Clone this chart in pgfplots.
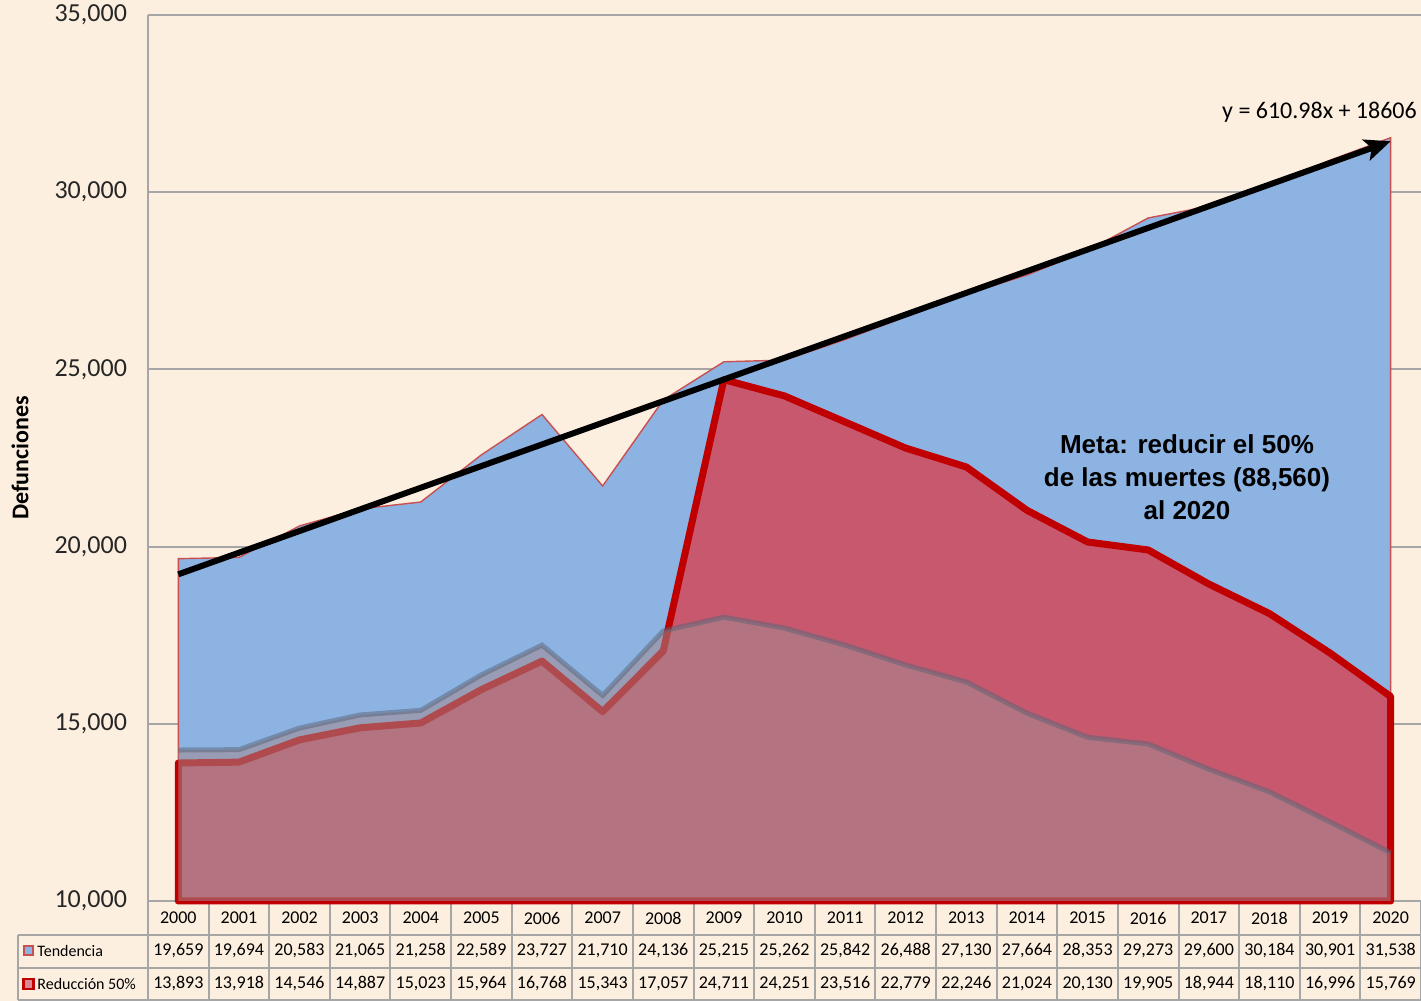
\documentclass[border=0pt]{standalone}
\usepackage{pgfplots}
\pgfplotsset{compat=1.18}
\usepackage{pgfplotstable}
\usepackage{fontspec}
\setmainfont{Carlito}
\newfontfamily\arialfont{Liberation Sans}
\usetikzlibrary{arrows.meta}
\definecolor{bg}{RGB}{253,239,223}
\definecolor{bluefill}{RGB}{141,179,226}
\definecolor{redfill}{RGB}{200,88,110}
\definecolor{redline}{RGB}{192,0,0}
\definecolor{mauve}{RGB}{162,138,143}
\definecolor{gridgray}{RGB}{166,166,166}
\definecolor{bordergray}{RGB}{90,100,120}
\definecolor{thinred}{RGB}{200,80,80}

\pgfplotstableread{
x tend red
0 19659 13893
1 19694 13918
2 20583 14546
3 21065 14887
4 21258 15023
5 22589 15964
6 23727 16768
7 21710 15343
8 24136 17057
9 25215 24711
10 25262 24251
11 25842 23516
12 26488 22779
13 27130 22246
14 27664 21024
15 28353 20130
16 29273 19905
17 29600 18944
18 30184 18110
19 30901 16996
20 31538 15769
}\datatab

\begin{document}
\begin{tikzpicture}
\fill[bg, use as bounding box] (-74pt,-50pt) rectangle (636.5pt,450.5pt);
% table grid
\begin{scope}[gridgray, line width=1pt]
\draw (-65pt,-17pt) -- (636.5pt,-17pt);
\draw (-65pt,-33.5pt) -- (636.5pt,-33.5pt);
\draw (-65pt,-49.5pt) -- (636.5pt,-49.5pt);
\draw (-65pt,-17pt) -- (-65pt,-49.5pt);
\draw (0,0) -- (636.5pt,0);
\foreach \k in {0,...,21} \draw (\k*30.3095pt,0) -- (\k*30.3095pt,-49.5pt);
\draw (0,0) -- (0,443pt);
\end{scope}
\node[draw=thinred, fill=bluefill, line width=1pt, minimum size=4.5pt, inner sep=0pt] at (-59.75pt,-25pt) {};
\node[anchor=west, font=\fontsize{8}{8}\selectfont, inner sep=0pt] at (-55.5pt,-25pt) {Tendencia};
\node[draw=redline, fill=redfill!70!white, line width=1.4pt, minimum size=5pt, inner sep=0pt] at (-59.75pt,-41.5pt) {};
\node[anchor=west, font=\fontsize{8}{8}\selectfont, inner sep=0pt] at (-55.5pt,-41.5pt) {Reducción 50\%};

\begin{axis}[at={(0,0)}, anchor=south west, scale only axis,
  width=636.5pt, height=443pt,
  xmin=-0.5, xmax=20.5, ymin=10000, ymax=35000, clip=false,
  axis line style={draw=none}, major tick length=0pt,
  ytick={10000,15000,20000,25000,30000,35000},
  ymajorgrids, grid style={gridgray, line width=1pt},
  scaled y ticks=false,
  yticklabel style={font=\fontsize{13}{13}\selectfont, text=black!85, xshift=-7pt},
  /pgf/number format/.cd, fixed, 1000 sep={,}, assume math mode=true, /pgfplots/.cd,
  xtick={0,...,20},
  xticklabels={2000,2001,2002,2003,2004,2005,2006,2007,2008,2009,2010,2011,2012,2013,2014,2015,2016,2017,2018,2019,2020},
  xticklabel style={anchor=center, yshift=-8.5pt, font=\fontsize{9}{9}\selectfont, text=black},
  ylabel=Defunciones,
  ylabel style={at={(axis description cs:-0.1005,0.5)}, anchor=center, font=\bfseries\fontsize{12}{12}\selectfont},
]
% Tendencia
\addplot[fill=bluefill, draw=thinred, line width=0.7pt] coordinates {
(0,10000) (0,19659) (1,19694) (2,20583) (3,21065) (4,21258) (5,22589) (6,23727) (7,21710) (8,24136) (9,25215) (10,25262) (11,25842) (12,26488) (13,27130) (14,27664) (15,28353) (16,29273) (17,29600) (18,30184) (19,30901) (20,31538) (20,10000)} -- cycle;
% Reduccion 50%
\addplot[fill=redfill, draw=redline, line width=3.5pt, line join=round] coordinates {
(0,10000) (0,13893) (1,13918) (2,14546) (3,14887) (4,15023) (5,15964) (6,16768) (7,15343) (8,17057) (9,24711) (10,24251) (11,23516) (12,22779) (13,22246) (14,21024) (15,20130) (16,19905) (17,18944) (18,18110) (19,16996) (20,15769) (20,10000)} -- cycle;
% third (translucent) area
\addplot[fill=mauve, fill opacity=0.55, draw=none] coordinates {
(0,10000) (0,14260) (1,14270) (2,14880) (3,15250) (4,15380) (5,16380) (6,17220) (7,15800) (8,17620) (9,18010) (10,17700) (11,17220) (12,16660) (13,16180) (14,15300) (15,14620) (16,14430) (17,13720) (18,13080) (19,12230) (20,11360) (20,10000)} -- cycle;
\addplot[bordergray, draw opacity=0.5, line width=2.5pt] coordinates {
(0,14260) (1,14270) (2,14880) (3,15250) (4,15380) (5,16380) (6,17220) (7,15800) (8,17620) (9,18010) (10,17700) (11,17220) (12,16660) (13,16180) (14,15300) (15,14620) (16,14430) (17,13720) (18,13080) (19,12230) (20,11360)};
% trend line
\addplot[black, line width=3pt, -{Stealth[length=13pt, width=11pt, inset=3pt]}] coordinates {(0,19217) (20,31437)};
% table values
\addplot[draw=none, mark=none, forget plot, nodes near coords, nodes near coords align={center}, point meta=explicit,
  every node near coord/.append style={anchor=center, yshift=-25pt, font=\fontsize{9}{9}\selectfont, text=black}]
  table[x=x, y expr=10000, meta=tend] {\datatab};
\addplot[draw=none, mark=none, forget plot, nodes near coords, nodes near coords align={center}, point meta=explicit,
  every node near coord/.append style={anchor=center, yshift=-41.5pt, font=\fontsize{9}{9}\selectfont, text=black}]
  table[x=x, y expr=10000, meta=red] {\datatab};
% annotations
\node[font=\arialfont\bfseries\fontsize{13}{16.5}\selectfont, align=center] at (axis cs:16.64,21966)
  {Meta: reducir el 50\%\\de las muertes (88,560)\\al 2020};
\node[anchor=east, font=\fontsize{12}{12}\selectfont, inner sep=1pt] at (axis cs:20.47,32266) {y = 610.98x + 18606};
\end{axis}
\end{tikzpicture}
\end{document}
